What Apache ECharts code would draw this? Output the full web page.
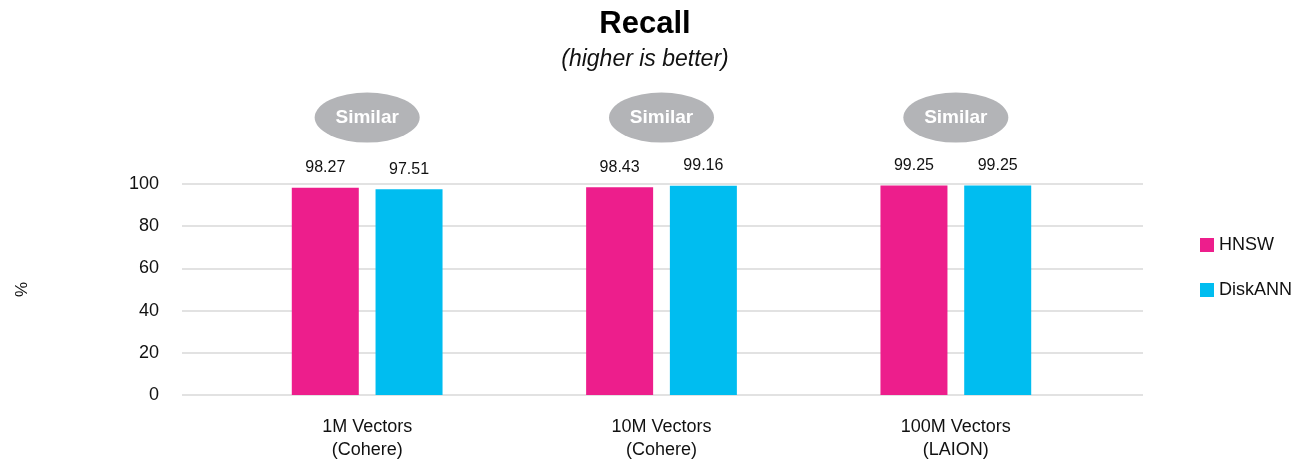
<!DOCTYPE html>
<html><head><meta charset="utf-8">
<script src="https://cdn.jsdelivr.net/npm/echarts@6/dist/echarts.min.js"></script>
<style>html,body{margin:0;padding:0;background:#fff}#c{width:1307px;height:459px}</style>
</head><body><div id="c"></div>
<script>
const categories = ['1M Vectors\n(Cohere)', '10M Vectors\n(Cohere)', '100M Vectors\n(LAION)'];
const hnsw = [98.27, 98.43, 99.25];
const diskann = [97.51, 99.16, 99.25];
const badges = ['Similar', 'Similar', 'Similar'];
const yTicks = [0, 20, 40, 60, 80, 100];

const FONT = '"Liberation Sans", Arial, sans-serif';
const BADGE_Y = 131.5;
const chart = echarts.init(document.getElementById('c'));
chart.setOption({
  animation: false,
  textStyle: { fontFamily: FONT },
  title: [
    { text: 'Recall', left: 640, textAlign: 'center', top: 4, textStyle: { fontFamily: FONT, fontSize: 31, fontWeight: 'bold', color: '#000' } },
    { text: '(higher is better)', left: 640, textAlign: 'center', top: 43, textStyle: { fontFamily: FONT, fontSize: 23, fontStyle: 'italic', fontWeight: 'normal', color: '#111' } }
  ],
  legend: {
    orient: 'vertical', left: 1195, top: 231, itemGap: 27,
    itemWidth: 14, itemHeight: 14, icon: 'rect',
    data: ['HNSW', 'DiskANN'],
    textStyle: { fontFamily: FONT, fontSize: 18, color: '#111' }
  },
  grid: [
    { left: 182, right: 164, top: 184, bottom: 64, outerBoundsMode: 'none', containLabel: false },
    { left: 220, right: 204, top: 184, bottom: 64, outerBoundsMode: 'none', containLabel: false }
  ],
  xAxis: [
    { type: 'category', gridIndex: 0, data: categories, show: false },
    { type: 'category', gridIndex: 1, data: categories,
      axisLine: { show: false }, axisTick: { show: false },
      axisLabel: { fontFamily: FONT, fontSize: 18, color: '#111', lineHeight: 23, margin: 21 } }
  ],
  yAxis: [
    { type: 'value', gridIndex: 0, min: 0, max: 100, interval: 20,
      name: '%', nameLocation: 'middle', nameGap: 151, nameRotate: 90,
      nameTextStyle: { fontFamily: FONT, fontSize: 17, color: '#111' },
      axisLine: { show: false }, axisTick: { show: false },
      axisLabel: { fontFamily: FONT, fontSize: 18, color: '#111', margin: 23,
        formatter: v => yTicks.includes(v) ? String(v) : '' },
      splitLine: { lineStyle: { color: '#d9d9d9', width: 1.5 } } },
    { type: 'value', gridIndex: 1, min: 0, max: 100, interval: 20, show: false,
      splitLine: { show: false } }
  ],
  series: [
    { name: 'HNSW', type: 'bar', xAxisIndex: 1, yAxisIndex: 1, data: hnsw,
      barWidth: 67, barGap: '25%', itemStyle: { color: '#ED1E8C' },
      label: { show: true, position: 'top', distance: 12, fontFamily: FONT, fontSize: 16, color: '#111' } },
    { name: 'DiskANN', type: 'bar', xAxisIndex: 1, yAxisIndex: 1, data: diskann,
      barWidth: 67, itemStyle: { color: '#00BDF0' },
      label: { show: true, position: 'top', distance: 12, fontFamily: FONT, fontSize: 16, color: '#111' } },
    { name: 'badge', type: 'scatter', xAxisIndex: 1, yAxisIndex: 1, clip: false,
      data: badges.map((b, i) => ({ value: [i, BADGE_Y], name: b })),
      symbol: 'circle', symbolSize: [105, 50], itemStyle: { color: '#b3b4b7', opacity: 1 },
      label: { show: true, position: 'inside', formatter: p => p.name,
        fontFamily: FONT, fontSize: 19, fontWeight: 'bold', color: '#fff' },
      silent: true, z: 5 }
  ]
});
</script></body></html>
